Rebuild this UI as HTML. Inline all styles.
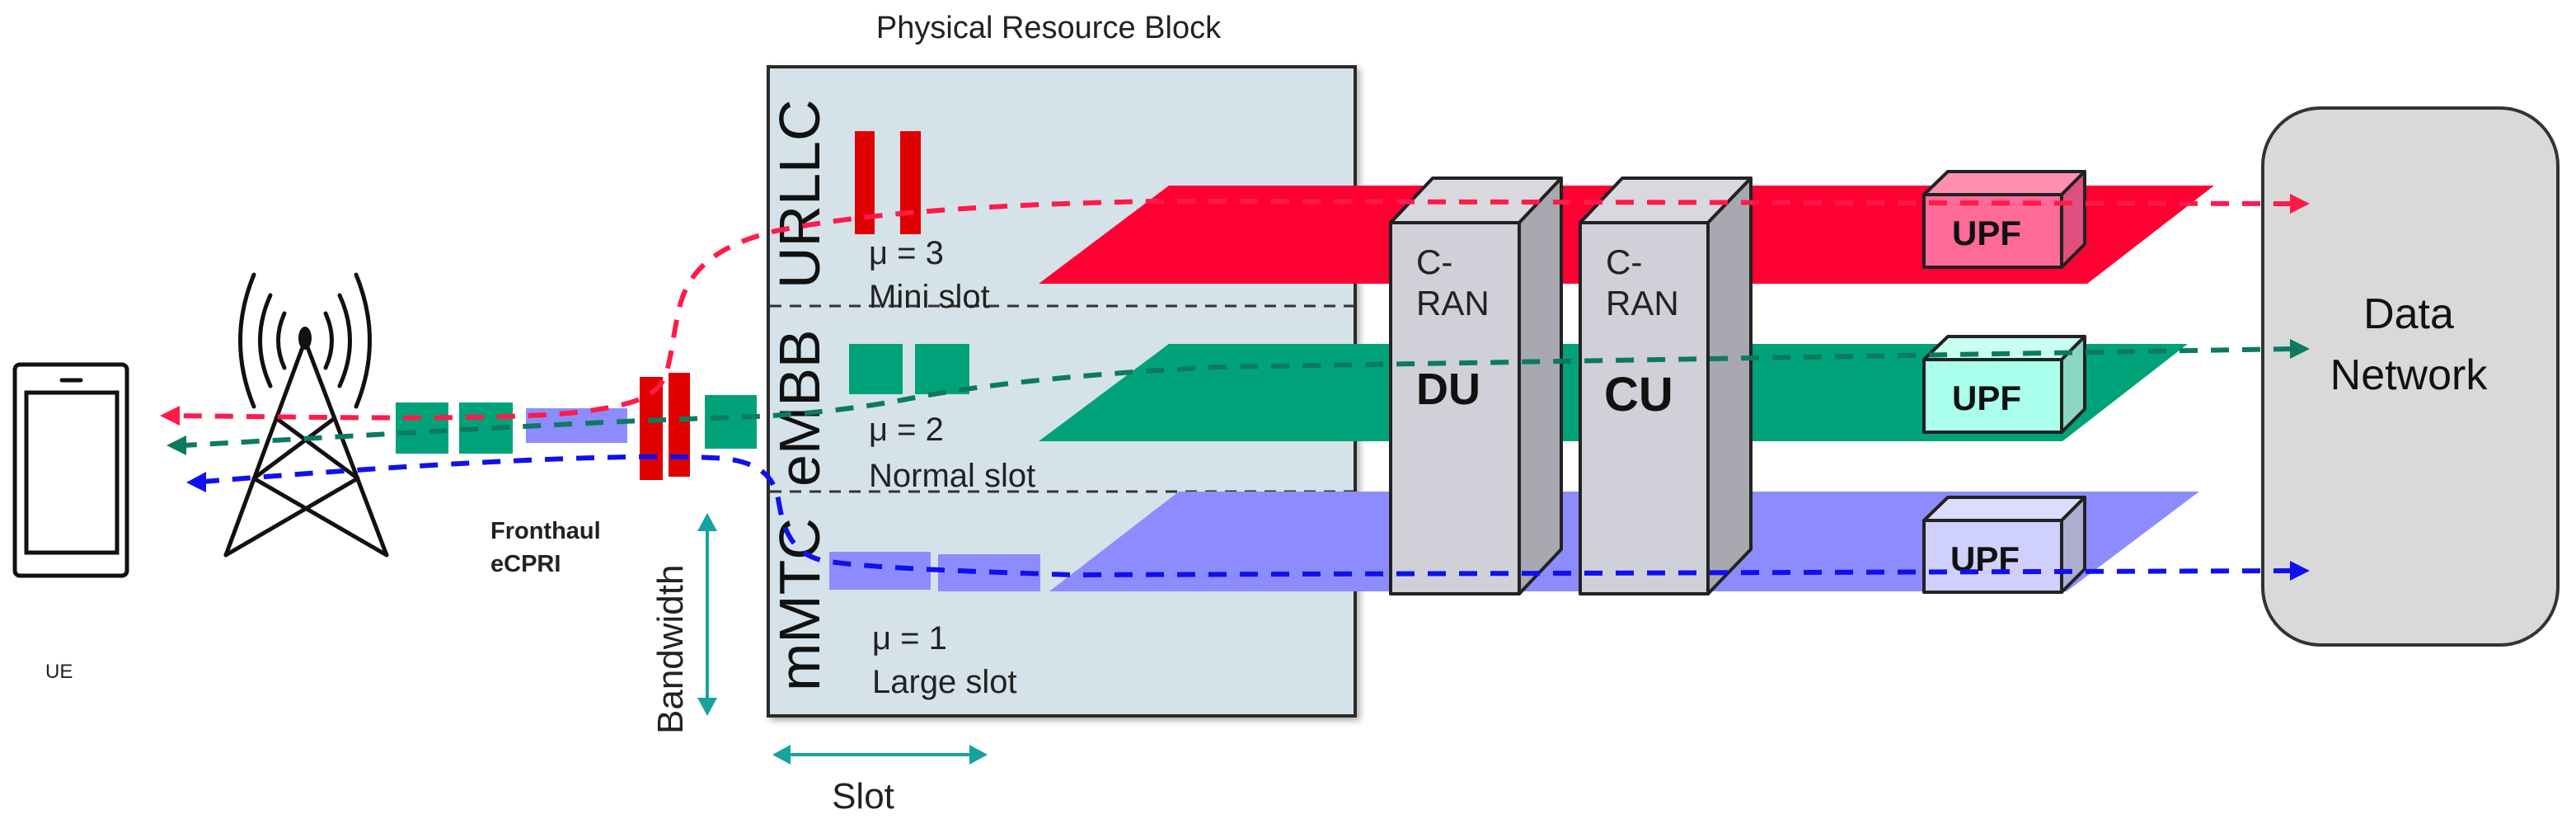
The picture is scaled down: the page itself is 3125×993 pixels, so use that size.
<!DOCTYPE html>
<html><head><meta charset="utf-8"><style>
html,body{margin:0;padding:0;background:#fff;}
svg{display:block;}
text{font-family:"Liberation Sans",Arial,sans-serif;}
</style></head><body>
<svg width="3125" height="993" viewBox="0 0 3125 993" xmlns="http://www.w3.org/2000/svg">
<defs>
<filter id="sh" x="-5%" y="-5%" width="110%" height="110%"><feDropShadow dx="4" dy="4" stdDeviation="4" flood-color="#000" flood-opacity="0.3"/></filter>
</defs>
<!-- Title -->
<text x="1272" y="46" font-size="38" text-anchor="middle" fill="#222">Physical Resource Block</text>

<!-- PRB box -->
<rect x="932" y="81" width="712" height="787" fill="#d5e2e9" stroke="#2a2a2a" stroke-width="4" filter="url(#sh)"/>
<line x1="934" y1="371" x2="1642" y2="371" stroke="#333" stroke-width="3" stroke-dasharray="14,10"/>
<line x1="934" y1="596" x2="1642" y2="596" stroke="#333" stroke-width="3" stroke-dasharray="14,10"/>
<text transform="translate(994,350) rotate(-90)" font-size="70" fill="#111">URLLC</text>
<text transform="translate(994,590) rotate(-90)" font-size="70" fill="#111">eMBB</text>
<text transform="translate(994,838) rotate(-90)" font-size="70" fill="#111">mMTC</text>

<rect x="1037" y="159" width="24" height="125" fill="#e00000"/>
<rect x="1092" y="159" width="25" height="125" fill="#e00000"/>
<text x="1054" y="320" font-size="40" fill="#222">μ = 3</text>
<text x="1054" y="373" font-size="40" fill="#222">Mini slot</text>

<rect x="1030" y="417" width="65" height="61" fill="#00a27a"/>
<rect x="1110" y="417" width="66" height="61" fill="#00a27a"/>
<text x="1054" y="534" font-size="40" fill="#222">μ = 2</text>
<text x="1054" y="590" font-size="40" fill="#222">Normal slot</text>

<rect x="1006" y="669" width="123" height="46" fill="#8c8cff"/>
<rect x="1138" y="672" width="124" height="45" fill="#8c8cff"/>
<text x="1058" y="787" font-size="40" fill="#222">μ = 1</text>
<text x="1058" y="840" font-size="40" fill="#222">Large slot</text>

<!-- slice planes -->
<polygon points="1418,225 2686,225 2532,344 1260,344" fill="#ff0033"/>
<polygon points="1418,417 2654,417 2502,535 1260,535" fill="#00a27a"/>
<polygon points="1430,596 2668,596 2507,717 1273,717" fill="#8c8cff"/>

<!-- towers -->
<g stroke="#222" stroke-width="4" stroke-linejoin="round">
<polygon points="1687,270 1738,216 1894,216 1843,270" fill="#d8d8de"/>
<polygon points="1843,270 1894,216 1894,666 1843,720" fill="#a8a8b0"/>
<rect x="1687" y="270" width="156" height="450" fill="#cfd0d8"/>
<polygon points="1917,270 1968,216 2124,216 2072,270" fill="#d8d8de"/>
<polygon points="2072,270 2124,216 2124,666 2072,720" fill="#a8a8b0"/>
<rect x="1917" y="270" width="155" height="450" fill="#cfd0d8"/>
</g>
<text x="1718" y="332" font-size="42" fill="#222">C-</text>
<text x="1718" y="382" font-size="42" fill="#222">RAN</text>
<text x="1718" y="490" font-size="54" font-weight="bold" fill="#111">DU</text>
<text x="1948" y="332" font-size="42" fill="#222">C-</text>
<text x="1948" y="382" font-size="42" fill="#222">RAN</text>
<text x="1946" y="498" font-size="58" font-weight="bold" fill="#111">CU</text>

<!-- UPF boxes -->
<g stroke="#222" stroke-width="4" stroke-linejoin="round">
<polygon points="2334,236 2363,208 2529,208 2501,236" fill="#ff8fb0"/>
<polygon points="2501,236 2529,208 2529,296 2501,324" fill="#e0507e"/>
<rect x="2334" y="236" width="167" height="88" fill="#ff6a99"/>
<polygon points="2334,436 2363,408 2529,408 2501,436" fill="#c8fff0"/>
<polygon points="2501,436 2529,408 2529,496 2501,524" fill="#8cd6c4"/>
<rect x="2334" y="436" width="167" height="88" fill="#aaffec"/>
<polygon points="2334,631 2363,603 2529,603 2501,631" fill="#dcdcff"/>
<polygon points="2501,631 2529,603 2529,690 2501,718" fill="#aeaed0"/>
<rect x="2334" y="631" width="167" height="87" fill="#d0d0ff"/>
</g>
<text x="2368" y="297" font-size="42" font-weight="bold" fill="#111">UPF</text>
<text x="2368" y="497" font-size="42" font-weight="bold" fill="#111">UPF</text>
<text x="2366" y="692" font-size="42" font-weight="bold" fill="#111">UPF</text>

<!-- Data network -->
<rect x="2745" y="131" width="358" height="651" rx="70" ry="70" fill="#d9d9d9" stroke="#333" stroke-width="4"/>
<text x="2922" y="398" font-size="52" text-anchor="middle" fill="#111">Data</text>
<text x="2922" y="472" font-size="52" text-anchor="middle" fill="#111">Network</text>

<!-- phone -->
<rect x="18" y="442" width="136" height="256" rx="6" fill="#fff" stroke="#111" stroke-width="5"/>
<rect x="32" y="476" width="110" height="194" fill="none" stroke="#111" stroke-width="5"/>
<line x1="75" y1="461" x2="98" y2="461" stroke="#111" stroke-width="5" stroke-linecap="round"/>
<text x="55" y="822" font-size="24" fill="#222">UE</text>

<!-- antenna tower -->
<g stroke="#111" stroke-width="5" fill="none" stroke-linecap="round">
<line x1="370" y1="413" x2="274" y2="673"/>
<line x1="370" y1="413" x2="469" y2="673"/>
<line x1="335" y1="507" x2="434" y2="580"/>
<line x1="406" y1="507" x2="308" y2="580"/>
<line x1="308" y1="580" x2="469" y2="673"/>
<line x1="434" y1="580" x2="274" y2="673"/>
<path d="M345,380 Q330,413 345,446"/>
<path d="M395,380 Q410,413 395,446"/>
<path d="M328,358 Q303,413 328,468"/>
<path d="M412,358 Q437,413 412,468"/>
<path d="M308,333 Q275,413 308,493"/>
<path d="M432,333 Q465,413 432,493"/>
</g>
<ellipse cx="370" cy="410" rx="8" ry="14" fill="#111"/>

<!-- left packets -->
<rect x="480" y="488" width="64" height="62" fill="#00a27a"/>
<rect x="557" y="488" width="65" height="62" fill="#00a27a"/>
<rect x="638" y="495" width="123" height="42" fill="#8c8cff"/>
<rect x="776" y="457" width="28" height="125" fill="#e00000"/>
<rect x="811" y="452" width="26" height="126" fill="#e00000"/>
<rect x="855" y="479" width="63" height="65" fill="#00a27a"/>

<text x="595" y="653" font-size="29" font-weight="bold" fill="#222">Fronthaul</text>
<text x="595" y="693" font-size="29" font-weight="bold" fill="#222">eCPRI</text>

<!-- bandwidth / slot arrows -->
<g stroke="#16a3a0" stroke-width="4" fill="#16a3a0">
<line x1="858" y1="640" x2="858" y2="850"/>
<polygon points="846,644 870,644 858,622" stroke="none"/>
<polygon points="846,846 870,846 858,868" stroke="none"/>
<line x1="955" y1="915" x2="1180" y2="915"/>
<polygon points="959,903 959,927 937,915" stroke="none"/>
<polygon points="1176,903 1176,927 1198,915" stroke="none"/>
</g>
<text transform="translate(828,890) rotate(-90)" font-size="44" fill="#222">Bandwidth</text>
<text x="1047" y="980" font-size="44" text-anchor="middle" fill="#222">Slot</text>

<!-- dashed flows -->
<g fill="none" stroke-width="6" stroke-dasharray="22,16">
<path d="M2780,247 L1400,244 C1200,248 1050,258 941,280 C880,295 838,320 825,370 C815,410 815,440 804,462 C790,485 760,492 700,500 C600,510 400,506 214,504" stroke="#ff1a4a"/>
<path d="M2780,423 L1480,445 C1330,452 1200,465 1110,482 C1040,496 960,505 860,507 C700,512 500,525 222,540" stroke="#0d7a60"/>
<path d="M2780,692 L1300,697 C1150,692 1050,688 1000,680 C960,672 950,640 945,610 C940,580 925,562 880,556 C800,550 600,555 246,584" stroke="#1010ee"/>
</g>
<polygon points="2778,235 2802,247 2778,259" fill="#ff1a4a"/>
<polygon points="2778,411 2802,423 2778,435" fill="#0d7a60"/>
<polygon points="2778,680 2802,692 2778,704" fill="#1010ee"/>
<polygon points="218,492 194,504 218,516" fill="#ff1a4a"/>
<polygon points="226,528 202,540 226,552" fill="#0d7a60"/>
<polygon points="250,572 226,585 250,597" fill="#1010ee"/>
</svg>
</body></html>
